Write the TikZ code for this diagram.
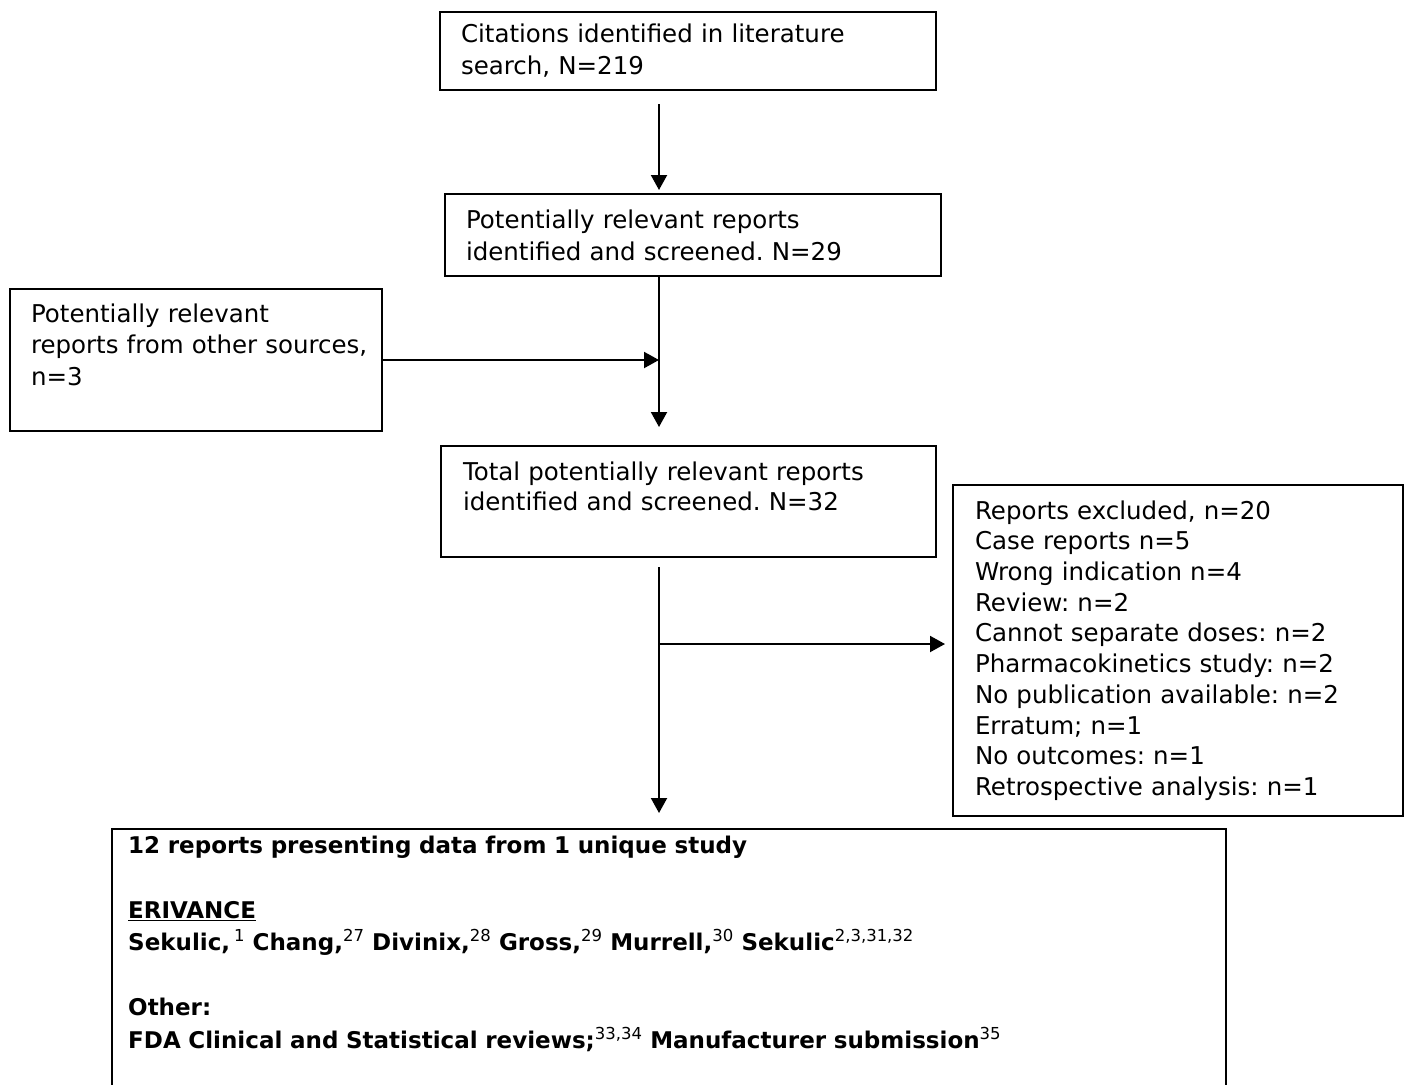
\documentclass[tikz,border=0pt]{standalone}
\usepackage{fontspec}
\setmainfont{DejaVu Sans}
\usetikzlibrary{arrows.meta}
\frenchspacing
\newcommand{\sref}[1]{\textsuperscript{\fontsize{16.5}{16.5}\selectfont\mdseries #1}}
\tikzset{
  box/.style={draw,line width=2pt,anchor=north west,align=left,inner ysep=0pt,font=\fontsize{24.5}{32}\selectfont},
  arr/.style={line width=2pt,-{Triangle[length=15pt,width=16pt]}}
}
\begin{document}
\begin{tikzpicture}[x=1pt,y=-1pt]
\useasboundingbox (0,0) rectangle (1405,1084);
\coordinate (spine) at (659,0);
\node[box,inner xsep=21pt,text width=454pt,minimum height=78pt](cite) at (439,11){Citations identified in literature\\search, N=219};
\node[box,inner xsep=21pt,text width=454pt,minimum height=82pt](rel) at (444,193){Potentially relevant reports\\identified and screened. N=29};
\node[box,inner xsep=21pt,text width=330pt,minimum height=142pt,font=\fontsize{24.5}{31.5}\selectfont](other) at (9,288){Potentially relevant\\reports~from~other~sources,\\n=3\\\mbox{}};
\node[box,inner xsep=22pt,text width=451pt,minimum height=111pt,font=\fontsize{24.5}{30}\selectfont](total) at (440,445){Total potentially relevant reports\\identified and screened. N=32\\\mbox{}};
\node[box,inner xsep=22pt,text width=406pt,minimum height=331pt,font=\fontsize{24.5}{30.7}\selectfont](excl) at (952,484){Reports excluded, n=20\\Case reports n=5\\Wrong indication n=4\\Review: n=2\\Cannot separate doses: n=2\\Pharmacokinetics study: n=2\\No publication available: n=2\\Erratum; n=1\\No outcomes: n=1\\Retrospective analysis: n=1};
\node[box,line width=2.4pt,inner xsep=16pt,text width=1082pt,minimum height=258pt,font=\fontsize{23}{32.5}\selectfont\bfseries](studies) at (111,828){12 reports presenting data from 1 unique study\\\mbox{}\\\underline{ERIVANCE}\\Sekulic,\,\sref{1} Chang,\sref{27} Divinix,\sref{28} Gross,\sref{29} Murrell,\sref{30} Sekulic\sref{2,3,31,32}\\\mbox{}\\Other:\\FDA Clinical and Statistical reviews;\sref{33,34} Manufacturer submission\sref{35}\\\mbox{}};
\draw[arr,shorten <=13pt,shorten >=3pt] (cite.south -| spine) -- (rel.north -| spine);
\draw[arr,shorten >=18pt] (rel.south -| spine) -- (total.north -| spine);
\draw[arr] (other.east) -- (other.east -| spine);
\draw[arr,shorten <=9pt,shorten >=15pt] (total.south -| spine) -- (studies.north -| spine);
\coordinate (split) at (659,644);
\draw[arr,shorten >=7pt] (split) -- (split -| excl.west);
\end{tikzpicture}
\end{document}
